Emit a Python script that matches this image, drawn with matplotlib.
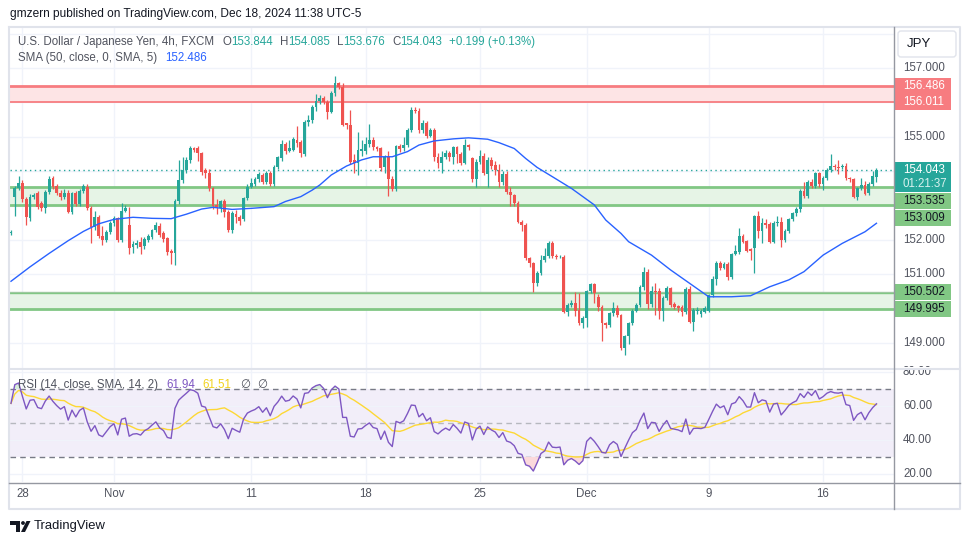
import matplotlib
matplotlib.use("Agg")
import matplotlib.pyplot as plt
import matplotlib.transforms as mtransforms
from matplotlib.patches import Rectangle, FancyBboxPatch, Polygon, Circle
import numpy as np
import pandas as pd

plt.rcParams['font.family'] = ['Liberation Sans', 'DejaVu Sans']

# USD/JPY 4h candles (FXCM), left to right
opens = [152.19, 153.24, 153.50, 153.65, 153.18, 152.63, 153.26, 153.36, 153.07, 152.92,
         153.40, 153.79, 153.57, 153.38, 153.26, 153.38, 152.82, 153.36, 153.05, 153.43,
         153.53, 152.92, 152.39, 152.68, 152.12, 152.00, 152.24, 152.48, 152.63, 152.00,
         152.85, 152.44, 151.81, 151.86, 151.95, 151.83, 152.00, 152.10, 152.29, 152.42,
         152.19, 152.05, 151.69, 151.61, 153.12, 153.74, 154.04, 154.33, 154.66, 154.66,
         154.52, 154.03, 153.94, 153.50, 153.02, 152.92, 153.12, 152.82, 152.29, 152.76,
         152.68, 152.60, 153.21, 153.55, 153.63, 153.76, 153.89, 153.70, 153.96, 153.63,
         154.13, 154.37, 154.79, 154.60, 154.62, 154.91, 154.86, 154.50, 155.44, 155.49,
         155.86, 156.05, 156.12, 156.02, 155.73, 156.26, 156.55, 156.46, 155.39, 155.34,
         154.33, 154.23, 154.60, 154.60, 154.79, 154.91, 154.69, 154.66, 154.11, 154.42,
         153.76, 153.47, 154.73, 154.66, 154.76, 155.20, 155.78, 155.76, 155.20, 155.41,
         155.03, 155.20, 154.40, 154.25, 154.42, 154.54, 154.42, 154.69, 154.50, 154.25,
         154.76, 154.37, 153.76, 154.28, 154.44, 153.92, 154.33, 154.18, 154.03, 153.70,
         153.92, 153.40, 153.31, 153.09, 152.53, 152.44, 151.47, 151.32, 150.74, 151.05,
         151.42, 151.53, 151.90, 151.53, 151.50, 151.50, 149.92, 150.11, 150.18, 149.96,
         149.58, 149.72, 150.53, 150.72, 150.35, 150.06, 149.58, 149.53, 149.87, 150.01,
         149.82, 148.85, 149.21, 149.58, 149.95, 150.11, 150.62, 151.07, 150.13, 150.53,
         150.53, 149.95, 150.31, 150.60, 150.14, 150.08, 150.04, 149.91, 150.57, 149.63,
         149.95, 149.85, 149.92, 149.95, 150.40, 150.86, 151.32, 151.20, 151.30, 150.91,
         151.59, 151.66, 152.12, 151.97, 151.73, 151.76, 152.70, 152.27, 152.48, 152.46,
         151.95, 152.48, 152.53, 152.00, 152.27, 152.60, 152.78, 152.89, 153.43, 153.28,
         153.70, 153.57, 153.94, 153.63, 153.79, 154.03, 154.15, 154.13, 154.11, 154.15,
         153.79, 153.76, 153.26, 153.50, 153.60, 153.36, 153.63, 153.844]
highs = [152.30, 153.56, 153.87, 153.74, 153.24, 153.33, 153.38, 153.42, 153.13, 153.46,
         153.86, 153.86, 153.62, 153.45, 153.47, 153.45, 153.40, 153.42, 153.48, 153.62,
         153.62, 152.98, 152.83, 152.74, 152.40, 152.30, 152.55, 152.70, 152.66, 153.08,
         153.02, 152.95, 151.98, 152.00, 152.08, 152.08, 152.18, 152.33, 152.53, 152.48,
         152.26, 152.10, 151.75, 153.20, 154.33, 154.40, 154.42, 154.72, 154.70, 154.72,
         154.55, 154.10, 154.05, 153.55, 153.20, 153.15, 153.18, 152.88, 152.84, 152.86,
         152.72, 153.25, 153.62, 153.80, 153.83, 153.98, 153.95, 154.00, 154.02, 154.18,
         154.44, 154.92, 154.85, 154.90, 155.00, 155.30, 154.92, 155.50, 155.62, 155.92,
         156.23, 156.22, 156.18, 156.08, 156.32, 156.77, 156.58, 156.55, 155.40, 155.78,
         154.50, 155.14, 154.92, 155.00, 155.37, 154.98, 154.72, 154.70, 154.48, 154.60,
         153.85, 154.76, 154.78, 155.00, 155.26, 155.86, 155.86, 155.85, 155.50, 155.46,
         155.25, 155.26, 154.52, 154.58, 154.62, 154.60, 154.72, 154.72, 154.56, 154.95,
         154.80, 154.42, 154.35, 154.62, 154.52, 154.40, 154.40, 154.30, 154.22, 154.00,
         154.00, 153.55, 153.35, 153.12, 152.57, 152.48, 151.52, 151.36, 151.10, 151.55,
         151.78, 151.96, 151.96, 151.58, 151.55, 151.55, 150.16, 150.25, 150.50, 150.46,
         149.80, 150.55, 150.76, 150.75, 150.42, 150.10, 149.62, 149.92, 150.20, 150.10,
         149.85, 149.25, 149.62, 150.00, 150.17, 150.68, 151.22, 151.15, 150.66, 150.76,
         150.60, 150.38, 150.66, 150.64, 150.20, 150.12, 150.10, 150.63, 150.66, 150.02,
         150.05, 150.00, 150.08, 150.44, 150.94, 151.40, 151.38, 151.36, 151.36, 151.62,
         151.85, 152.35, 152.16, 152.00, 151.78, 152.72, 152.85, 152.65, 152.60, 152.52,
         152.55, 152.70, 152.68, 152.32, 152.64, 152.82, 152.96, 153.48, 153.68, 153.75,
         153.76, 153.98, 153.98, 153.85, 154.10, 154.50, 154.22, 154.33, 154.20, 154.25,
         153.82, 153.80, 153.55, 153.80, 153.72, 153.68, 154.00, 154.085]
lows = [152.14, 152.70, 153.44, 153.10, 152.44, 152.55, 153.19, 152.90, 152.83, 152.78,
        153.35, 153.48, 153.30, 153.17, 153.20, 152.78, 152.76, 152.98, 152.98, 153.38,
        152.86, 151.92, 152.30, 152.05, 151.85, 151.95, 152.18, 152.40, 151.95, 151.94,
        152.80, 151.58, 151.62, 151.78, 151.58, 151.73, 151.93, 152.03, 152.24, 152.08,
        151.95, 151.56, 151.30, 151.28, 153.05, 153.65, 153.95, 154.25, 154.55, 154.30,
        153.90, 153.80, 153.42, 152.90, 152.75, 152.80, 152.68, 152.23, 152.20, 152.50,
        152.45, 152.55, 153.15, 153.50, 153.58, 153.70, 153.62, 153.64, 153.58, 153.58,
        154.05, 154.30, 154.50, 154.55, 154.58, 154.70, 154.42, 154.45, 155.30, 155.40,
        155.75, 155.95, 155.96, 155.53, 155.68, 156.20, 156.38, 155.30, 155.24, 154.20,
        153.95, 153.88, 154.45, 154.50, 154.70, 154.62, 154.58, 154.00, 153.95, 153.28,
        153.42, 153.42, 154.55, 154.60, 154.70, 155.15, 155.68, 155.12, 155.10, 154.96,
        154.98, 154.30, 154.10, 153.95, 154.35, 154.30, 154.20, 154.25, 154.18, 154.20,
        154.62, 153.70, 153.55, 154.20, 153.88, 153.55, 154.05, 153.90, 153.55, 153.60,
        153.35, 153.00, 152.98, 152.48, 152.25, 151.42, 151.22, 150.48, 150.65, 150.98,
        151.35, 151.48, 151.48, 151.45, 151.47, 149.88, 149.78, 150.05, 149.80, 149.52,
        149.45, 149.48, 150.45, 150.18, 149.95, 149.05, 149.45, 149.48, 149.80, 149.75,
        148.80, 148.65, 148.98, 149.52, 149.90, 150.05, 150.55, 149.98, 150.05, 149.82,
        149.70, 149.65, 150.25, 150.05, 149.98, 149.90, 149.78, 149.85, 149.60, 149.36,
        149.85, 149.75, 149.88, 149.90, 150.35, 150.70, 151.12, 151.15, 150.85, 150.88,
        151.55, 151.60, 151.90, 151.64, 151.42, 151.03, 152.06, 151.90, 152.35, 151.90,
        151.90, 152.40, 151.80, 151.95, 152.20, 152.55, 152.70, 152.80, 153.22, 153.22,
        153.50, 153.52, 153.55, 153.45, 153.74, 153.98, 154.04, 153.93, 154.05, 153.74,
        153.70, 153.22, 153.16, 153.45, 153.30, 153.32, 153.58, 153.676]
closes = [152.24, 153.50, 153.65, 153.18, 152.66, 153.26, 153.30, 152.97, 152.92, 153.40,
          153.76, 153.55, 153.38, 153.24, 153.38, 152.82, 153.36, 153.05, 153.43, 153.57,
          152.92, 152.39, 152.68, 152.12, 152.00, 152.24, 152.48, 152.63, 152.00, 152.85,
          152.92, 151.76, 151.88, 151.90, 151.81, 152.02, 152.12, 152.29, 152.44, 152.15,
          152.02, 151.66, 151.61, 153.12, 153.74, 154.04, 154.33, 154.66, 154.62, 154.52,
          153.99, 153.94, 153.50, 152.99, 152.92, 153.12, 152.82, 152.29, 152.78, 152.66,
          152.56, 153.21, 153.55, 153.67, 153.76, 153.92, 153.70, 153.94, 153.62, 154.13,
          154.40, 154.79, 154.60, 154.66, 154.93, 154.83, 154.52, 155.44, 155.49, 155.86,
          156.05, 156.14, 156.02, 155.73, 156.26, 156.55, 156.46, 155.34, 155.34, 154.28,
          154.23, 154.62, 154.64, 154.79, 154.91, 154.69, 154.64, 154.08, 154.42, 153.76,
          153.47, 154.73, 154.64, 154.76, 155.20, 155.78, 155.76, 155.20, 155.41, 155.03,
          155.20, 154.40, 154.25, 154.42, 154.54, 154.42, 154.69, 154.50, 154.25, 154.76,
          154.69, 153.76, 154.28, 154.44, 153.94, 154.33, 154.15, 154.03, 153.70, 153.92,
          153.40, 153.31, 153.09, 152.53, 152.44, 151.47, 151.32, 150.74, 151.05, 151.42,
          151.53, 151.90, 151.53, 151.50, 151.52, 149.92, 150.11, 150.18, 149.94, 149.58,
          149.72, 150.53, 150.72, 150.45, 150.06, 149.58, 149.53, 149.87, 150.01, 149.82,
          148.85, 149.21, 149.58, 149.95, 150.11, 150.62, 151.07, 150.14, 150.53, 150.50,
          149.95, 150.31, 150.60, 150.11, 150.06, 150.01, 149.91, 150.57, 149.63, 149.96,
          149.97, 149.95, 150.01, 150.40, 150.86, 151.34, 151.18, 151.30, 150.91, 151.59,
          151.69, 152.12, 151.95, 151.69, 151.69, 152.70, 152.27, 152.48, 152.44, 151.95,
          152.48, 152.53, 152.00, 152.27, 152.60, 152.78, 152.91, 153.43, 153.28, 153.70,
          153.57, 153.94, 153.63, 153.79, 154.03, 154.15, 154.11, 154.10, 154.15, 153.79,
          153.76, 153.26, 153.50, 153.60, 153.34, 153.63, 153.86, 154.043]

# SMA(50) line: bar index -> value
sma_idx = [0, 5, 10, 15, 19, 23, 27, 32, 37, 42, 46, 50, 53, 58, 63, 69, 72, 76, 79, 81, 84, 88,
           92, 95, 100, 104, 107, 111, 116, 120, 125, 128, 132, 135, 138, 142, 147, 153, 156, 160, 162, 168,
           173, 178, 183, 189, 194, 199, 204, 208, 213, 218, 224, 227]
sma_val = [150.80, 151.22, 151.61, 151.98, 152.25, 152.47, 152.60, 152.66, 152.63, 152.62,
           152.75, 152.90, 152.95, 152.89, 152.92, 152.97, 153.12, 153.26, 153.45, 153.60,
           153.89, 154.15, 154.33, 154.42, 154.42, 154.57, 154.76, 154.88, 154.94, 154.97,
           154.93, 154.83, 154.66, 154.37, 154.11, 153.84, 153.50, 153.02, 152.58, 152.19,
           151.95, 151.56, 151.13, 150.74, 150.35, 150.35, 150.38, 150.64, 150.84, 151.08,
           151.56, 151.90, 152.24, 152.486]

zone_red = (156.011, 156.486)
zone_mid = (153.009, 153.535)
zone_low = (149.995, 150.502)
last_price = 154.043
countdown = "01:21:37"
price_ticks = [157, 155, 152, 151, 149]
rsi_ticks = [80, 60, 40, 20]
date_pos = [3, 27, 63, 93, 123, 151, 183, 213]
date_lbl = ["28", "Nov", "11", "18", "25", "Dec", "9", "16"]
rsi_last, rsi_ma_last = 61.94, 61.51

UP, DOWN = '#26a69a', '#ef5350'
GRID = '#f0f3fa'
TXT = '#50535e'

W, H = 970, 545
fig = plt.figure(figsize=(W / 100, H / 100), dpi=100)
fig.patch.set_facecolor('white')


def frac(x0, y0, x1, y1):
    return [x0 / W, 1 - y1 / H, (x1 - x0) / W, (y1 - y0) / H]


ax = fig.add_axes(frac(10, 28, 894, 368))
ar = fig.add_axes(frac(10, 369, 894, 482))
# overlay in pixel units for frame, header and legends (drawn on top of the panes)
ov = fig.add_axes([0, 0, 1, 1])
ov.set_xlim(0, W)
ov.set_ylim(H, 0)
ov.axis('off')
ov.set_zorder(10)

P_TOP, P_BOT = 158.163, 148.279
R_TOP, R_BOT = 81.76, 15.3
for a in (ax, ar):
    a.set_xlim(-0.26, 231.6)
    a.set_xticks([])
    a.set_yticks([])
    for s in a.spines.values():
        s.set_visible(False)
    for p in date_pos:
        a.axvline(p, color=GRID, lw=1, zorder=0)
ax.set_ylim(P_BOT, P_TOP)
ar.set_ylim(R_BOT, R_TOP)

# frame
ov.plot([9, 960, 960, 9, 9], [27, 27, 509, 509, 27], color='#e0e3eb', lw=1.5)
ov.plot([894, 894], [27, 509], color='#9598a1', lw=1)
ov.plot([9, 960], [482.5, 482.5], color='#9598a1', lw=1)

# price pane
for g in range(149, 159):
    ax.axhline(g, color=GRID, lw=1, zorder=0)
ax.axhspan(*zone_red, color='#fde4e5', lw=0, zorder=1)
ax.axhline(zone_red[1], color='#f77c80', lw=2, zorder=2)
ax.axhline(zone_red[0], color='#f77c80', lw=1.3, zorder=2)
ax.axhspan(*zone_mid, color='#e6f4e6', lw=0, zorder=1)
ax.axhline(zone_mid[1], color='#81c784', lw=2, zorder=2)
ax.axhline(zone_mid[0], color='#81c784', lw=2, zorder=2)
ax.axhspan(*zone_low, color='#e6f4e6', lw=0, zorder=1)
ax.axhline(zone_low[1], color='#a5c9a7', lw=1, zorder=2)
ax.axhline(zone_low[1] - 0.055, color='#81c784', lw=1, zorder=2)
ax.axhline(zone_low[0], color='#81c784', lw=2, zorder=2)
ax.axhline(last_price, color=UP, lw=1, ls=(0, (1, 2.5)), zorder=2)

o = np.array(opens)
h = np.array(highs)
l = np.array(lows)
c = np.array(closes)
idx = np.arange(len(c))
col = np.where(c >= o, UP, DOWN)
ax.vlines(idx, l, h, colors=col, lw=0.9, zorder=3)
ax.bar(idx, np.maximum(np.abs(c - o), 0.015), bottom=np.minimum(o, c), width=0.74,
       color=col, lw=0, zorder=4)
ax.plot(sma_idx, sma_val, color='#2962ff', lw=1, zorder=5)

# RSI (14) from closes, Wilder smoothing; averages carried in from bars before the window
ag, al = 0.16, 0.10
rsi = []
prev = c[0]
for v in c:
    d = v - prev
    prev = v
    ag = (ag * 13 + max(d, 0)) / 14
    al = (al * 13 + max(-d, 0)) / 14
    rsi.append(100 - 100 / (1 + ag / al))
rsi = np.array(rsi)
rsi_ma = pd.Series(rsi).rolling(14, min_periods=1).mean().values

ar.axhspan(30, 70, color='#f2eef9', lw=0, zorder=0)
for g in rsi_ticks:
    ar.axhline(g, color=GRID, lw=1, zorder=0)
ar.axhline(70, color='#787b86', lw=1, ls=(0, (4, 3)), zorder=1)
ar.axhline(50, color='#b6b8bf', lw=1, ls=(0, (4, 3)), zorder=1)
ar.axhline(30, color='#787b86', lw=1, ls=(0, (4, 3)), zorder=1)
ar.fill_between(idx, rsi, 30, where=rsi < 30, interpolate=True, color='#fbd9dc', lw=0, zorder=1)
ar.fill_between(idx, rsi, 70, where=rsi > 70, interpolate=True, color='#d7efd9', lw=0, zorder=1)
ar.plot(idx, rsi_ma, color='#fdd835', lw=1, zorder=2)
ar.plot(idx, rsi, color='#7e57c2', lw=1, zorder=3)

# right scale labels
FS = 8.3
ppu = 340 / (P_TOP - P_BOT)
bx0, bw, tx = (895 - 10) / 884, 56 / 884, (903 - 10) / 884
bp = mtransforms.blended_transform_factory(ax.transAxes, ax.transData)
br = mtransforms.blended_transform_factory(ar.transAxes, ar.transData)

for t in price_ticks:
    ax.text(tx, t, f"{t:.3f}", transform=bp, fontsize=FS, color=TXT, va='center', clip_on=False)


def tag(value, bg, fg, shift=0):
    y = value - shift / ppu
    ax.add_patch(Rectangle((bx0, y - 8 / ppu), bw, 16 / ppu, transform=bp, color=bg,
                           lw=0, clip_on=False, zorder=6))
    ax.text(tx, y, f"{value:.3f}", transform=bp, fontsize=FS, color=fg, va='center',
            clip_on=False, zorder=7)


tag(zone_red[1], '#f77c80', 'white')
tag(zone_red[0], '#f77c80', 'white')
tag(zone_mid[1], '#81c784', '#131722', shift=14)
tag(zone_mid[0], '#81c784', '#131722', shift=13)
tag(zone_low[1], '#81c784', '#131722')
tag(zone_low[0], '#81c784', '#131722')
ax.add_patch(Rectangle((bx0, last_price - 22 / ppu), bw, 30 / ppu, transform=bp, color=UP,
                       lw=0, clip_on=False, zorder=6))
ax.text(tx, last_price, f"{last_price:.3f}", transform=bp, fontsize=FS, color='white',
        va='center', clip_on=False, zorder=7)
ax.text(tx, last_price - 14 / ppu, countdown, transform=bp, fontsize=FS, color='#d9f2ef',
        va='center', clip_on=False, zorder=7)

for t in rsi_ticks:
    ar.text(tx, t, f"{t:.2f}", transform=br, fontsize=FS, color=TXT, va='center', clip_on=False)

# pane separator, drawn over the top of the RSI scale like the original
right_edge = (960 - 10) / 884
ar.add_patch(Rectangle((1.002, 1.0), right_edge - 1.004, 0.02, transform=ar.transAxes,
                       color='white', lw=0, clip_on=False, zorder=7))
ar.plot([0, right_edge], [1, 1], transform=ar.transAxes, color='#e0e3eb', lw=1.5,
        clip_on=False, zorder=8)

ov.add_patch(FancyBboxPatch((898, 31), 58, 26, boxstyle="round,pad=0,rounding_size=3",
                            fc='white', ec='#e0e3eb', lw=1))
ov.text(907, 44, "JPY", fontsize=9.5, color='#131722', va='center')

for p, s in zip(date_pos, date_lbl):
    ar.text(p, -0.105, s, transform=mtransforms.blended_transform_factory(ar.transData, ar.transAxes),
            fontsize=FS, color=TXT, ha='center', va='center', clip_on=False)

# header and legends
renderer = fig.canvas.get_renderer()


def run_text(x, y, parts, size=FS):
    for s, colr, gap in parts:
        t = ov.text(x, y, s, fontsize=size, color=colr, va='center', ha='left')
        bb = t.get_window_extent(renderer)
        x += bb.width + gap


ov.text(10, 14, "gmzern published on TradingView.com, Dec 18, 2024 11:38 UTC-5",
        fontsize=8.6, color='#131722', va='center')
run_text(18, 42, [("U.S. Dollar / Japanese Yen, 4h, FXCM", TXT, 8),
                  ("O", TXT, 0), (f"{opens[-1]:.3f}", UP, 7),
                  ("H", TXT, 0), (f"{highs[-1]:.3f}", UP, 7),
                  ("L", TXT, 0), (f"{lows[-1]:.3f}", UP, 7),
                  ("C", TXT, 0), (f"{closes[-1]:.3f}", UP, 7),
                  ("+0.199 (+0.13%)", UP, 0)])
run_text(18, 58, [("SMA (50, close, 0, SMA, 5)", TXT, 8), (f"{sma_val[-1]:.3f}", '#2962ff', 0)])
run_text(18, 385, [("RSI (14, close, SMA, 14, 2)", TXT, 8), (f"{rsi_last:.2f}", '#7e57c2', 8),
                   (f"{rsi_ma_last:.2f}", '#f2d21b', 8), ("∅", TXT, 7), ("∅", TXT, 0)])

# TradingView logo
ov.add_patch(Polygon([(10, 521), (20, 521), (20, 532), (16, 532), (16, 525), (10, 525)],
                     color='#131722', lw=0))
ov.add_patch(Circle((23, 523), 1.9, color='#131722', lw=0))
ov.add_patch(Polygon([(21, 532), (26.5, 521), (30.5, 521), (25, 532)], color='#131722', lw=0))
ov.text(34, 526.5, "TradingView", fontsize=9.4, color='#131722', va='center')

fig.savefig("out.png", dpi=100, facecolor='white')
